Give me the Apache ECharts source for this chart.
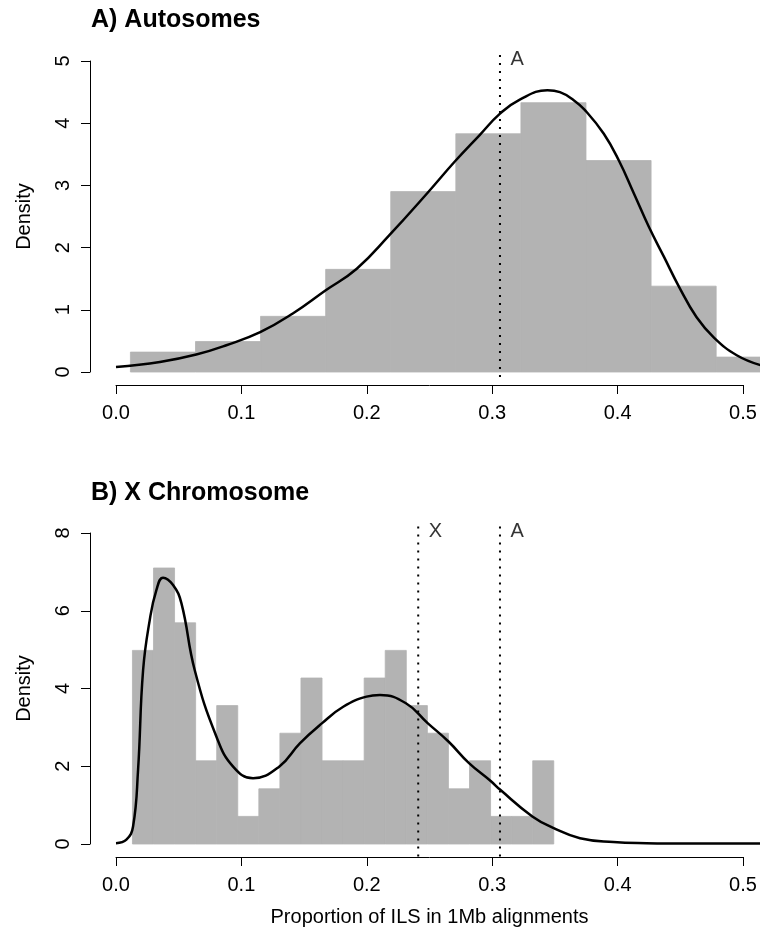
<!DOCTYPE html>
<html lang="en">

<head>
    <meta charset="UTF-8">
    <title>ILS density</title>
    <script src="https://cdn.jsdelivr.net/npm/echarts@6/dist/echarts.min.js"></script>
    <style>
        html, body { margin: 0; padding: 0; background: #fff; }
        #mChart { width: 760px; height: 934px; }
    </style>
</head>

<body>
    <div id="mChart"></div>

    <script type="text/javascript">
        // A) autosomes histogram (bin edges + density) and fitted curve
        const autoEdges = [0.0115, 0.0634, 0.1153, 0.1672, 0.2191, 0.2710, 0.3229, 0.3748, 0.4267, 0.4786, 0.5305]
        const autoDensity = [0.32, 0.49, 0.895, 1.65, 2.90, 3.83, 4.33, 3.40, 1.38, 0.24]
        const autoCurveX = [0.000, 0.035, 0.064, 0.088, 0.115, 0.141, 0.167, 0.192, 0.218, 0.248, 0.270, 0.290, 0.306, 0.322,
            0.344, 0.354, 0.365, 0.374, 0.389, 0.401, 0.413, 0.425, 0.437, 0.449, 0.463, 0.477, 0.495, 0.514]
        const autoCurveY = [0.08, 0.16, 0.28, 0.43, 0.64, 0.94, 1.31, 1.66, 2.20, 2.87, 3.38, 3.81, 4.15, 4.38,
            4.53, 4.50, 4.37, 4.21, 3.83, 3.40, 2.87, 2.33, 1.85, 1.37, 0.88, 0.55, 0.27, 0.11]
        const autoMarkNames = ['A']
        const autoMarkPos = [0.3062]

        // B) X chromosome
        const xEdges = [0.0131, 0.0299, 0.0467, 0.0635, 0.0803, 0.0971, 0.1139, 0.1307, 0.1475, 0.1643, 0.1811,
            0.1979, 0.2147, 0.2315, 0.2483, 0.2651, 0.2819, 0.2987, 0.3155, 0.3323, 0.3491]
        const xDensity = [4.98, 7.10, 5.69, 2.14, 3.56, 0.71, 1.42, 2.85, 4.27, 2.14,
            2.14, 4.27, 4.98, 3.56, 2.85, 1.42, 2.14, 0.71, 0.71, 2.14]
        const xCurveX = [0.000, 0.0083, 0.0136, 0.0176, 0.0216, 0.0269, 0.0322, 0.0375, 0.0455, 0.0522, 0.0628,
            0.0801, 0.0934, 0.1093, 0.1301, 0.1466, 0.1644, 0.1812, 0.1998, 0.2105, 0.2312, 0.2485, 0.2653,
            0.2815, 0.2988, 0.3062, 0.332, 0.349, 0.370, 0.3966, 0.423, 0.460, 0.5137]
        const xCurveY = [0.02, 0.11, 0.45, 1.91, 4.47, 5.76, 6.53, 6.85, 6.66, 6.19, 4.47,
            2.76, 1.99, 1.69, 1.99, 2.59, 3.11, 3.53, 3.79, 3.83, 3.62, 3.11, 2.63,
            2.08, 1.62, 1.40, 0.71, 0.41, 0.15, 0.05, 0.02, 0.01, 0.01]
        const xMarkNames = ['X', 'A']
        const xMarkPos = [0.241, 0.3062]

        const xTickLabels = ['0.0', '0.1', '0.2', '0.3', '0.4', '0.5']
        const autoYTicks = ['0', '1', '2', '3', '4', '5']
        const xYTicks = ['0', '2', '4', '6', '8']

        const titles = ['A) Autosomes', 'B) X Chromosome']
        const yName = 'Density'
        const xName = 'Proportion of ILS in 1Mb alignments'

        const FONT = '"Liberation Sans", Arial, Helvetica, sans-serif'
        const INK = '#000'
        const BAR = '#b3b3b3'

        // visible axes run 0..0.5, the data area keeps going to the right edge of the page
        const AXIS_W = 627
        const DATA_W = 644
        const DATA_XMAX = 0.5 * DATA_W / AXIS_W

        var mChart = echarts.init(document.getElementById('mChart'), null, { renderer: 'canvas' })

        function binData(edges, dens) {
            return dens.map((d, i) => [edges[i], edges[i + 1], d])
        }

        function pairs(xs, ys) {
            return xs.map((x, i) => [x, ys[i]])
        }

        function histSeries(idx, data) {
            return {
                type: 'custom',
                xAxisIndex: idx,
                yAxisIndex: idx,
                clip: false,
                silent: true,
                encode: { x: [0, 1], y: 2 },
                data: data,
                renderItem: (params, api) => {
                    let p0 = api.coord([api.value(0), api.value(2)])
                    let p1 = api.coord([api.value(1), 0])
                    return {
                        type: 'rect',
                        shape: { x: p0[0], y: p0[1], width: p1[0] - p0[0], height: p1[1] - p0[1] },
                        style: { fill: BAR, stroke: BAR, lineWidth: 0.8 }
                    }
                }
            }
        }

        function curveSeries(idx, data) {
            return {
                type: 'line',
                xAxisIndex: idx,
                yAxisIndex: idx,
                data: data,
                clip: false,
                smooth: 0.45,
                symbol: 'none',
                silent: true,
                z: 3,
                lineStyle: { color: INK, width: 2.5 }
            }
        }

        function markSeries(idx, names, pos, yLow, yHigh, yLabel) {
            let out = []
            pos.forEach((x, i) => {
                out.push({
                    type: 'line',
                    xAxisIndex: idx,
                    yAxisIndex: idx,
                    data: [[x, yLow], [x, yHigh]],
                    clip: false,
                    symbol: 'none',
                    silent: true,
                    z: 4,
                    lineStyle: { color: INK, width: 2, type: [2, 6] }
                })
                out.push({
                    type: 'scatter',
                    xAxisIndex: idx,
                    yAxisIndex: idx,
                    data: [[x, yLabel]],
                    clip: false,
                    symbolSize: 1,
                    silent: true,
                    z: 5,
                    itemStyle: { color: 'rgba(0,0,0,0)' },
                    label: {
                        show: true,
                        position: 'right',
                        distance: 10,
                        formatter: names[i],
                        color: INK,
                        fontFamily: FONT,
                        fontSize: 20
                    }
                })
            })
            return out
        }

        function xAxisOpt(idx, withName) {
            return {
                type: 'value',
                gridIndex: idx,
                min: 0,
                max: 0.5,
                interval: 0.1,
                offset: 13,
                axisLine: { show: true, onZero: false, lineStyle: { color: INK, width: 1 } },
                axisTick: { show: true, inside: false, length: 9, lineStyle: { color: INK, width: 1 } },
                axisLabel: {
                    margin: 18,
                    color: INK,
                    fontFamily: FONT,
                    fontSize: 20,
                    formatter: v => xTickLabels[Math.round(v * 10)]
                },
                splitLine: { show: false },
                name: withName ? xName : '',
                nameLocation: 'middle',
                nameGap: 50,
                nameTextStyle: { color: INK, fontFamily: FONT, fontSize: 20 }
            }
        }

        function yAxisOpt(idx, max, interval, labels) {
            return {
                type: 'value',
                gridIndex: idx,
                min: 0,
                max: max,
                interval: interval,
                offset: 26,
                axisLine: { show: true, onZero: false, lineStyle: { color: INK, width: 1 } },
                axisTick: { show: true, inside: false, length: 9, lineStyle: { color: INK, width: 1 } },
                axisLabel: {
                    rotate: 90,
                    margin: 17,
                    color: INK,
                    fontFamily: FONT,
                    fontSize: 20,
                    formatter: v => labels[Math.round(v / interval)]
                },
                splitLine: { show: false },
                name: yName,
                nameLocation: 'middle',
                nameRotate: 90,
                nameGap: 56,
                nameTextStyle: { color: INK, fontFamily: FONT, fontSize: 20 }
            }
        }

        function hiddenAxis(idx, min, max) {
            return { type: 'value', gridIndex: idx, min: min, max: max, show: false }
        }

        mChart.setOption({
            animation: false,
            backgroundColor: '#fff',
            title: [
                { text: titles[0], left: 91, top: 8, padding: 0, textStyle: { fontFamily: FONT, fontSize: 25, fontWeight: 'bold', color: INK } },
                { text: titles[1], left: 91, top: 481, padding: 0, textStyle: { fontFamily: FONT, fontSize: 25, fontWeight: 'bold', color: INK } }
            ],
            grid: [
                { left: 116, top: 61, width: AXIS_W, height: 311 },
                { left: 116, top: 533, width: AXIS_W, height: 311 },
                { left: 116, top: 61, width: DATA_W, height: 311 },
                { left: 116, top: 533, width: DATA_W, height: 311 }
            ],
            xAxis: [xAxisOpt(0, false), xAxisOpt(1, true), hiddenAxis(2, 0, DATA_XMAX), hiddenAxis(3, 0, DATA_XMAX)],
            yAxis: [yAxisOpt(0, 5, 1, autoYTicks), yAxisOpt(1, 8, 2, xYTicks), hiddenAxis(2, 0, 5), hiddenAxis(3, 0, 8)],
            series: [
                histSeries(2, binData(autoEdges, autoDensity)),
                curveSeries(2, pairs(autoCurveX, autoCurveY)),
                ...markSeries(2, autoMarkNames, autoMarkPos, -0.08, 5.13, 5.03),
                histSeries(3, binData(xEdges, xDensity)),
                curveSeries(3, pairs(xCurveX, xCurveY)),
                ...markSeries(3, xMarkNames, xMarkPos, -0.32, 8.2, 8.04)
            ]
        })
    </script>
</body>

</html>
